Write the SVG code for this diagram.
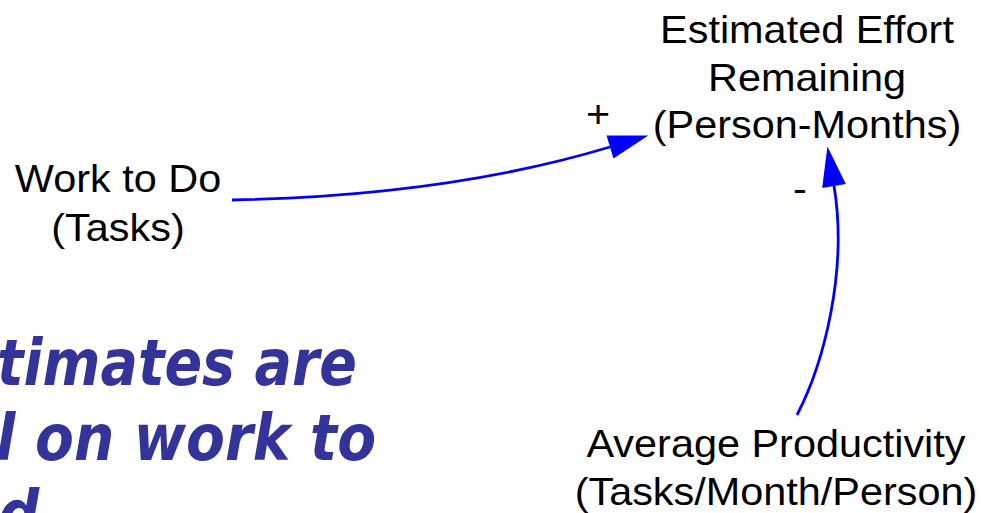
<svg xmlns="http://www.w3.org/2000/svg" width="981" height="513" viewBox="0 0 981 513">
<defs>
<style>
.lbl{font-family:"Liberation Sans",Arial,sans-serif;font-size:38px;fill:#000;text-anchor:middle}
.sign{font-family:"Liberation Sans",Arial,sans-serif;font-size:38px;fill:#000;text-anchor:middle}
.link{fill:none;stroke:#0000FF;stroke-width:2.8}
.note{font-family:"DejaVu Sans Condensed","DejaVu Sans",Verdana,sans-serif;font-size:64px;font-weight:bold;font-style:italic;fill:#333399}
</style>
<marker id="ah" markerUnits="userSpaceOnUse" markerWidth="50" markerHeight="30" refX="0" refY="0" orient="auto" overflow="visible">
<path d="M0,-12 L40,0 L0,12 Z" fill="#0000FF"/>
</marker>
</defs>
<rect width="981" height="513" fill="#fff"/>

<g id="note">
<text class="note" x="-3" y="385" textLength="360" lengthAdjust="spacingAndGlyphs">timates are</text>
<text class="note" x="-4" y="460" textLength="380" lengthAdjust="spacingAndGlyphs">l on work to</text>
<text class="note" x="-2" y="536">d</text>
</g>

<g id="connectors">
<path class="link" d="M232,200 Q448,195.7 610,147" marker-end="url(#ah)"/>
<path class="link" d="M797,415 C824,363 848,270 834,186" marker-end="url(#ah)"/>
<text class="sign" transform="translate(598,127) scale(1.09,1)">+</text>
<text class="sign" transform="translate(800,202) scale(1.09,1)">-</text>
</g>

<g id="estimated-effort">
<text class="lbl" transform="translate(807,43) scale(1.09,1)">Estimated Effort</text>
<text class="lbl" transform="translate(807,91) scale(1.09,1)">Remaining</text>
<text class="lbl" transform="translate(807,138) scale(1.09,1)">(Person-Months)</text>
</g>

<g id="work-to-do">
<text class="lbl" transform="translate(118,192) scale(1.09,1)">Work to Do</text>
<text class="lbl" transform="translate(118,241) scale(1.09,1)">(Tasks)</text>
</g>

<g id="average-productivity">
<text class="lbl" transform="translate(776,457) scale(1.09,1)">Average Productivity</text>
<text class="lbl" transform="translate(776,505) scale(1.09,1)">(Tasks/Month/Person)</text>
</g>
</svg>
